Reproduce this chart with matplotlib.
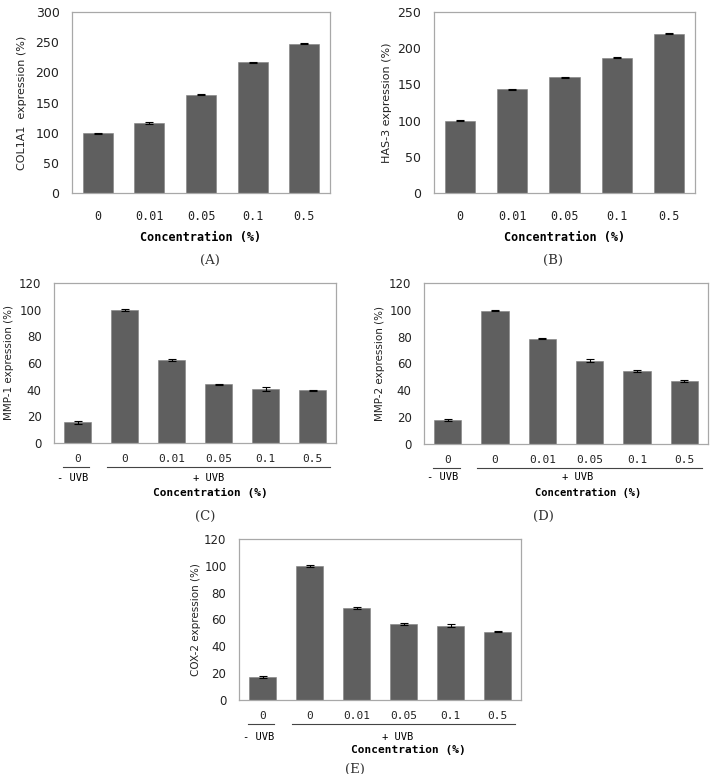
import numpy as np
import matplotlib.pyplot as plt

# values
conc = ["0", "0.01", "0.05", "0.1", "0.5"]
conc_uvb = ["0", "0", "0.01", "0.05", "0.1", "0.5"]

col1a1 = [99, 116, 163, 217, 247]
col1a1_err = [1.0, 1.2, 0.8, 0.8, 0.8]
has3 = [100, 143, 160, 187, 220]
has3_err = [0.5, 1.0, 0.8, 0.8, 0.8]
mmp1 = [15.5, 100, 62.5, 44, 40.5, 39.5]
mmp1_err = [1.0, 0.8, 0.8, 0.6, 1.2, 0.3]
mmp2 = [18, 99.5, 78.5, 62, 54.5, 47]
mmp2_err = [1.0, 0.5, 0.6, 1.0, 0.7, 0.5]
cox2 = [17, 100, 68.5, 56.5, 55.5, 51]
cox2_err = [0.8, 0.6, 0.8, 0.7, 0.8, 0.3]

W, H = 712, 774
fig = plt.figure(figsize=(W / 100, H / 100), dpi=100)

bar_color = "#5f5f5f"
frame = "#a8a8a8"
mono = "DejaVu Sans Mono"


def px_axes(x0, y0, x1, y1):
    return fig.add_axes([x0 / W, 1 - y1 / H, (x1 - x0) / W, (y1 - y0) / H])


def ftext(x, y, s, **kw):
    fig.text(x / W, 1 - y / H, s, ha="center", va="center", **kw)


def panel(ax, labels, vals, errs, ymax, step, ylabel, ylab_x, fs, xpad):
    x = np.arange(len(vals))
    ax.bar(x, vals, width=0.58, color=bar_color, edgecolor="#808080", linewidth=0.4,
           yerr=errs, error_kw=dict(ecolor="black", elinewidth=0.8, capsize=3, capthick=0.8))
    ax.set_xlim(-0.5, len(vals) - 0.5)
    ax.set_ylim(0, ymax)
    ax.set_yticks(np.arange(0, ymax + 1, step))
    ax.set_xticks(x)
    ax.set_xticklabels(labels, family=mono, fontsize=fs, color="#222222")
    for lab in ax.get_yticklabels():
        lab.set_family("DejaVu Sans")
        lab.set_fontsize(fs + 0.5)
        lab.set_color("#222222")
    ax.tick_params(length=0, pad=9)
    ax.tick_params(axis="x", pad=xpad)
    for s in ax.spines.values():
        s.set_color(frame)
        s.set_linewidth(0.9)
    ax.set_ylabel(ylabel, family="DejaVu Sans", fontsize=fs - 0.5, color="#222222")
    ax.yaxis.set_label_coords(ylab_x, 0.5)


def uvb_lines(ax, y_off):
    tr = ax.get_xaxis_transform()
    ax.plot([-0.3, 0.25], [y_off, y_off], color="#444444", lw=0.8, transform=tr, clip_on=False)
    ax.plot([0.62, 5.38], [y_off, y_off], color="#444444", lw=0.8, transform=tr, clip_on=False)


# (A)
axA = px_axes(72, 12, 330, 193)
panel(axA, conc, col1a1, col1a1_err, 300, 50, "COL1A1  expression (%)", -0.174, 8.5, 12)
ftext(201, 237, "Concentration (%)", family=mono, fontsize=8.5, fontweight="bold")
ftext(210, 260, "(A)", family="DejaVu Serif", fontsize=9.5, color="#333333")

# (B)
axB = px_axes(434, 12, 695, 193)
panel(axB, conc, has3, has3_err, 250, 50, "HAS-3 expression (%)", -0.161, 8.5, 12)
ftext(565, 237, "Concentration (%)", family=mono, fontsize=8.5, fontweight="bold")
ftext(553, 260, "(B)", family="DejaVu Serif", fontsize=9.5, color="#333333")

# (C)
axC = px_axes(54, 283, 336, 443)
panel(axC, conc_uvb, mmp1, mmp1_err, 120, 20, "MMP-1 expression (%)", -0.142, 8, 8)
uvb_lines(axC, -0.15)
ftext(73, 478, "- UVB", family=mono, fontsize=7.5)
ftext(209, 478, "+ UVB", family=mono, fontsize=7.5)
ftext(210, 493, "Concentration (%)", family=mono, fontsize=8, fontweight="bold")
ftext(205, 516, "(C)", family="DejaVu Serif", fontsize=9.5, color="#333333")

# (D)
axD = px_axes(424, 283, 708, 444)
panel(axD, conc_uvb, mmp2, mmp2_err, 120, 20, "MMP-2 expression (%)", -0.137, 8, 8)
uvb_lines(axD, -0.15)
ftext(443, 477, "- UVB", family=mono, fontsize=7.5)
ftext(578, 477, "+ UVB", family=mono, fontsize=7.5)
ftext(588, 493, "Concentration (%)", family=mono, fontsize=7.5, fontweight="bold")
ftext(543, 516, "(D)", family="DejaVu Serif", fontsize=9.5, color="#333333")

# (E)
axE = px_axes(239, 539, 521, 700)
panel(axE, conc_uvb, cox2, cox2_err, 120, 20, "COX-2 expression (%)", -0.135, 8, 8)
uvb_lines(axE, -0.15)
ftext(259, 737, "- UVB", family=mono, fontsize=7.5)
ftext(398, 737, "+ UVB", family=mono, fontsize=7.5)
ftext(408, 750, "Concentration (%)", family=mono, fontsize=8, fontweight="bold")
ftext(355, 769, "(E)", family="DejaVu Serif", fontsize=9.5, color="#333333")

fig.savefig("out.png", dpi=100)
